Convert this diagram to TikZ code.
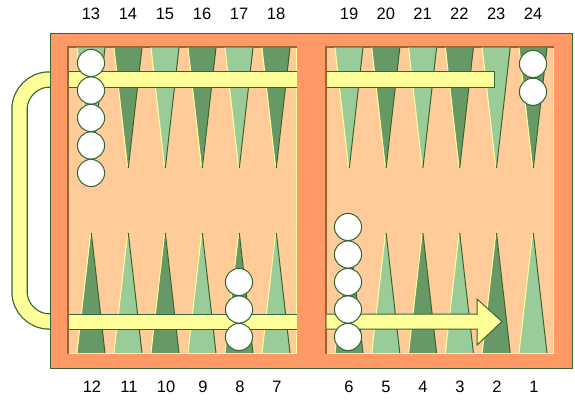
\documentclass[tikz,border=0pt]{standalone}
\usepackage{fontspec}
\setmainfont{Liberation Sans}
\definecolor{boardorange}{HTML}{FF9966}
\definecolor{felt}{HTML}{FFCC99}
\definecolor{darkpt}{HTML}{669966}
\definecolor{lightpt}{HTML}{99CC99}
\definecolor{edgegreen}{HTML}{336633}
\definecolor{baryellow}{HTML}{FFFF99}
\definecolor{shadowbrown}{HTML}{996633}
\definecolor{hilite}{HTML}{FFFF99}
\pgfdeclareradialshading{checkershade}{\pgfpoint{0bp}{5bp}}{%
  color(0bp)=(white); color(22bp)=(white); color(50bp)=(black!40); color(60bp)=(black!40)}
\begin{document}
\begin{tikzpicture}[x=1pt,y=-1pt,
  numlabel/.style={font=\fontsize{16.5}{18}\selectfont, inner sep=0pt, anchor=center},
  checker/.style={shading=checkershade, draw=edgegreen, line width=1pt},
  barfill/.style={fill=baryellow},
  baredge/.style={draw=edgegreen, line width=1pt}]
\useasboundingbox (0,0) rectangle (575,400);

% handle behind the board
\draw[edgegreen, line width=16.5pt, rounded corners=30pt]
  (60,79.5) -- (19.5,79.5) -- (19.5,321.5) -- (60,321.5);
\draw[baryellow, line width=14pt, rounded corners=30pt]
  (62,79.5) -- (19.5,79.5) -- (19.5,321.5) -- (62,321.5);

% board frame and the two playing areas
\draw[fill=boardorange, draw=edgegreen, line width=1pt] (50,33) rectangle (572,368);
\fill[felt] (67,46) rectangle (297,354);
\fill[felt] (325,46) rectangle (554,354);
\foreach \xa/\xb in {67/297, 325/554}{
  \draw[hilite, line width=1.2pt] (\xb-0.6,46) -- (\xb-0.6,353.4) -- (\xa,353.4);
  \draw[shadowbrown, line width=1.6pt] (\xa+0.8,354) -- (\xa+0.8,46.8) -- (\xb,46.8);
}

% points: top row and bottom row
\foreach \i in {0,...,5}{
  \pgfmathsetmacro\cx{91+37*\i}
  \pgfmathsetmacro\cy{349+36.8*\i}
  \ifodd\i
    \def\ca{darkpt}\def\cb{lightpt}
  \else
    \def\ca{lightpt}\def\cb{darkpt}
  \fi
  \fill[\ca] (\cx-14,47.6) -- (\cx,168) -- (\cx+14,47.6) -- cycle;
  \draw[hilite, line width=1pt] (\cx-14,47.6) -- (\cx-0.5,167);
  \draw[edgegreen, line width=1pt] (\cx+14,47.6) -- (\cx+0.3,168);
  \fill[\ca] (\cy-14,47.6) -- (\cy,168) -- (\cy+14,47.6) -- cycle;
  \draw[hilite, line width=1pt] (\cy-14,47.6) -- (\cy-0.5,167);
  \draw[edgegreen, line width=1pt] (\cy+14,47.6) -- (\cy+0.3,168);
  \fill[\cb] (\cx-14,353) -- (\cx,233) -- (\cx+14,353) -- cycle;
  \draw[hilite, line width=1pt] (\cx-14,353) -- (\cx-0.5,234);
  \draw[edgegreen, line width=1pt] (\cx+14,353) -- (\cx+0.3,233);
  \fill[\cb] (\cy-14,353) -- (\cy,233) -- (\cy+14,353) -- cycle;
  \draw[hilite, line width=1pt] (\cy-14,353) -- (\cy-0.5,234);
  \draw[edgegreen, line width=1pt] (\cy+14,353) -- (\cy+0.3,233);
}

% movement bars
\fill[barfill] (68.5,71.5) rectangle (297,87);
\draw[baredge] (68.5,71.5) -- (297,71.5) (68.5,87) -- (297,87);
\fill[barfill] (326.5,71.5) rectangle (494,87);
\draw[baredge] (326.5,71.5) -- (494,71.5) -- (494,87) -- (326.5,87);
\fill[barfill] (68.5,314) rectangle (297,329);
\draw[baredge] (68.5,314) -- (297,314) (68.5,329) -- (297,329);
\fill[barfill] (326.5,314) -- (477,314) -- (477,299) -- (502,321.5)
  -- (477,345) -- (477,329) -- (326.5,329) -- cycle;
\draw[baredge, line join=miter] (326.5,314) -- (477,314) -- (477,299) -- (502,321.5)
  -- (477,345) -- (477,329) -- (326.5,329);

% checkers
\foreach \k in {0,...,4}{
  \path[checker] (91,63+27.5*\k) circle[radius=13.6];
}
\foreach \k in {0,1}{
  \path[checker] (533,64+27.8*\k) circle[radius=13.6];
}
\foreach \k in {0,...,2}{
  \path[checker] (239,337-27.5*\k) circle[radius=13.6];
}
\foreach \k in {0,...,4}{
  \path[checker] (348,337-27.5*\k) circle[radius=13.6];
}

% point numbers
\foreach \n [count=\i from 0] in {13,14,15,16,17,18}{
  \node[numlabel] (top\n) at (91+37*\i,14) {\n};
}
\foreach \n [count=\i from 0] in {19,20,21,22,23,24}{
  \node[numlabel] (top\n) at (349+36.8*\i,14) {\n};
}
\foreach \n [count=\i from 0] in {12,11,10,9,8,7}{
  \node[numlabel] (bot\n) at (92+37*\i,387) {\n};
}
\foreach \n [count=\i from 0] in {6,5,4,3,2,1}{
  \node[numlabel] (bot\n) at (349+37*\i,387) {\n};
}
\end{tikzpicture}
\end{document}
